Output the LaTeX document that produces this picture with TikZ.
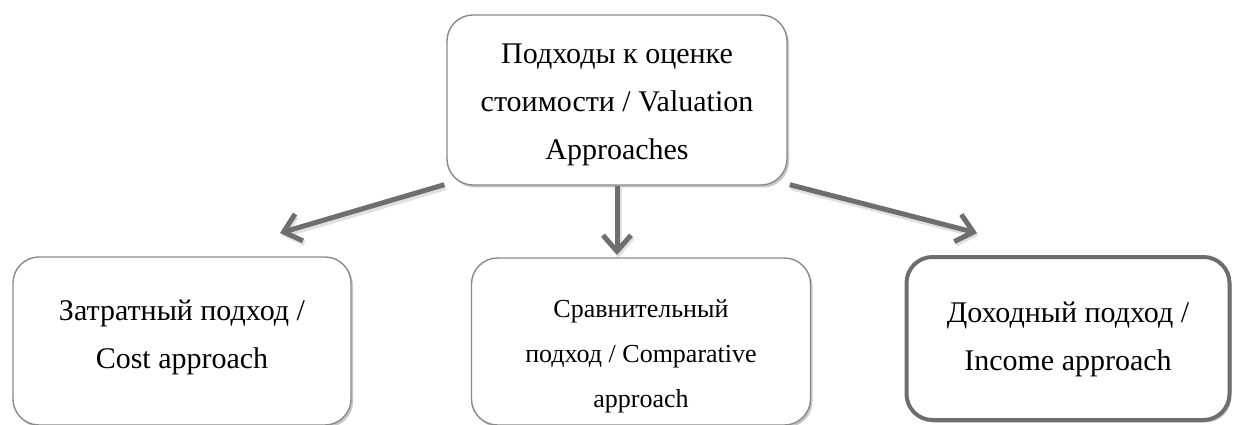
\documentclass[tikz,border=0pt]{standalone}
\usepackage{fontspec}
\setmainfont{Liberation Serif}
\usetikzlibrary{arrows.meta,shadows}
\begin{document}
\begin{tikzpicture}[x=1pt,y=-1pt,
  box/.style={draw=boxgray, line width=1.4pt, rounded corners=26pt, fill=white,
    align=center, inner sep=0pt, text depth=0pt,
    drop shadow={shadow xshift=2pt, shadow yshift=-2.5pt, opacity=0.22, fill=black}},
  arr/.style={draw=arrgray, line width=5pt,
    -{Straight Barb[length=16pt, width=28pt, line width=5pt]},
    preaction={draw=black, opacity=0.12, line width=6pt, transform canvas={xshift=1.5pt, yshift=-2.5pt}}},
  big/.style={font=\fontsize{30}{48}\selectfont},
  small/.style={font=\fontsize{26}{45}\selectfont}]
\definecolor{boxgray}{HTML}{8A8A8A}
\definecolor{arrgray}{HTML}{6E6E6E}
\useasboundingbox (0,0) rectangle (1235,425);
\node[box, big, text height=120pt, minimum width=340pt, minimum height=170pt] (top) at (617,100)
  {Подходы к оценке\\стоимости / Valuation\\Approaches};
\node[box, big, text height=54pt, minimum width=338pt, minimum height=168pt] (left) at (182,341)
  {Затратный подход /\\Cost approach};
\node[box, small, text height=131pt, minimum width=339pt, minimum height=167pt] (mid) at (641,341.5)
  {Сравнительный\\подход / Comparative\\approach};
\node[box, big, text height=63pt, draw=arrgray, line width=4pt, minimum width=323pt, minimum height=163pt] (right) at (1068,338.5)
  {Доходный подход /\\Income approach};
\coordinate (lt) at (280,233);
\coordinate (rt) at (977,233);
\draw[arr] ([xshift=-2pt,yshift=1pt]top.south west) -- (lt);
\draw[arr] (top.south) -- (top.south |- 0,255);
\draw[arr] ([xshift=2pt,yshift=1pt]top.south east) -- (rt);
\end{tikzpicture}
\end{document}
